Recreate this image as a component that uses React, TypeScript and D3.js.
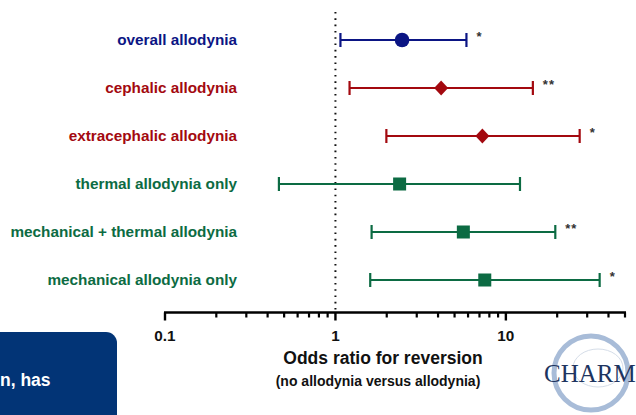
import * as d3 from "d3";

const labels = [
  "overall allodynia",
  "cephalic allodynia",
  "extracephalic allodynia",
  "thermal allodynia only",
  "mechanical + thermal allodynia",
  "mechanical allodynia only",
];
const oddsRatio = [2.46, 4.17, 7.28, 2.38, 5.63, 7.52];
const ciLow = [1.07, 1.21, 1.99, 0.466, 1.63, 1.6];
const ciHigh = [5.87, 14.4, 27.1, 12.1, 19.5, 35.5];
const stars = ["*", "**", "*", "", "**", "*"];
const markers = ["circle", "diamond", "diamond", "square", "square", "square"];
const colors = ["#0b1584", "#a3090f", "#a3090f", "#0c6b43", "#0c6b43", "#0c6b43"];

const majorTicks = [0.1, 1, 10];
const minorTicks = [0.2, 0.3, 0.4, 0.5, 0.6, 0.7, 0.8, 0.9, 2, 3, 4, 5, 6, 7, 8, 9, 20, 30, 40, 50];

const W = 636;
const H = 415;
const font = "'Liberation Sans', Arial, sans-serif";

export default function App() {
  const x = d3.scaleLog().domain([0.1, 50]).range([165, 625]);
  const y = d3.scalePoint<string>().domain(labels).range([40, 280]);
  const axisY = 312.5;

  return (
    <svg width={W} height={H} style={{ position: "absolute", left: 0, top: 0, background: "#fff" }}>
      {/* reference line at OR = 1 */}
      <line
        x1={x(1)}
        x2={x(1)}
        y1={12}
        y2={axisY - 3}
        stroke="#111"
        strokeWidth={2}
        strokeDasharray="1.6 4.7"
      />

      {labels.map((lab, i) => {
        const cy = y(lab)!;
        const c = colors[i];
        const cx = x(oddsRatio[i]);
        let marker;
        if (markers[i] === "circle") marker = <circle cx={cx} cy={cy} r={7.3} fill={c} />;
        else if (markers[i] === "diamond")
          marker = <path d="M0,-7.5L7,0L0,7.5L-7,0Z" transform={`translate(${cx},${cy})`} fill={c} />;
        else marker = <rect x={cx - 6.5} y={cy - 6.5} width={13} height={13} fill={c} />;
        return (
          <g key={lab}>
            <text
              x={237}
              y={cy}
              dy="0.35em"
              textAnchor="end"
              fontFamily={font}
              fontWeight="bold"
              fontSize={15.3}
              fill={c}
            >
              {lab}
            </text>
            <line x1={x(ciLow[i])} x2={x(ciHigh[i])} y1={cy} y2={cy} stroke={c} strokeWidth={2.2} />
            <line x1={x(ciLow[i])} x2={x(ciLow[i])} y1={cy - 7} y2={cy + 7} stroke={c} strokeWidth={2.2} />
            <line x1={x(ciHigh[i])} x2={x(ciHigh[i])} y1={cy - 7} y2={cy + 7} stroke={c} strokeWidth={2.2} />
            {marker}
            {stars[i] && (
              <text
                x={x(ciHigh[i]) + 10}
                y={cy + 1}
                fontFamily={font}
                fontWeight="bold"
                fontSize={13}
                fill="#333"
                letterSpacing={1}
              >
                {stars[i]}
              </text>
            )}
          </g>
        );
      })}

      {/* x axis */}
      <line x1={x(0.1) - 1} x2={x(50) + 1} y1={axisY} y2={axisY} stroke="#000" strokeWidth={2.6} />
      {majorTicks.map((t) => (
        <g key={t}>
          <line x1={x(t)} x2={x(t)} y1={axisY} y2={axisY + 8} stroke="#000" strokeWidth={2.4} />
          <text
            x={x(t)}
            y={axisY + 23}
            dy="0.35em"
            textAnchor="middle"
            fontFamily={font}
            fontWeight="bold"
            fontSize={15.3}
            fill="#111"
          >
            {t}
          </text>
        </g>
      ))}
      {minorTicks.map((t) => (
        <line key={t} x1={x(t)} x2={x(t)} y1={axisY} y2={axisY + 5} stroke="#000" strokeWidth={2.2} />
      ))}

      <text x={383} y={358} dy="0.35em" textAnchor="middle" fontFamily={font} fontWeight="bold" fontSize={17.5} fill="#111">
        Odds ratio for reversion
      </text>
      <text x={378} y={381} dy="0.35em" textAnchor="middle" fontFamily={font} fontWeight="bold" fontSize={14} fill="#111">
        (no allodynia versus allodynia)
      </text>

      {/* slide decoration: blue box */}
      <rect x={-20} y={332} width={137} height={110} rx={11} fill="#023476" />
      <text x={0} y={380} dy="0.35em" fontFamily={font} fontWeight="bold" fontSize={17.5} fill="#fff">
        n, has
      </text>

      {/* CHARM logo */}
      <circle cx={591} cy={373} r={37} fill="none" stroke="#a8bcd8" strokeWidth={5} />
      <ellipse cx={598} cy={368} rx={25} ry={19} fill="none" stroke="#d5dde8" strokeWidth={1} />
      <text x={544} y={382} fontFamily="'Liberation Serif', 'Times New Roman', serif" fontSize={25} fill="#1d3460">
        CHARM
      </text>
    </svg>
  );
}
